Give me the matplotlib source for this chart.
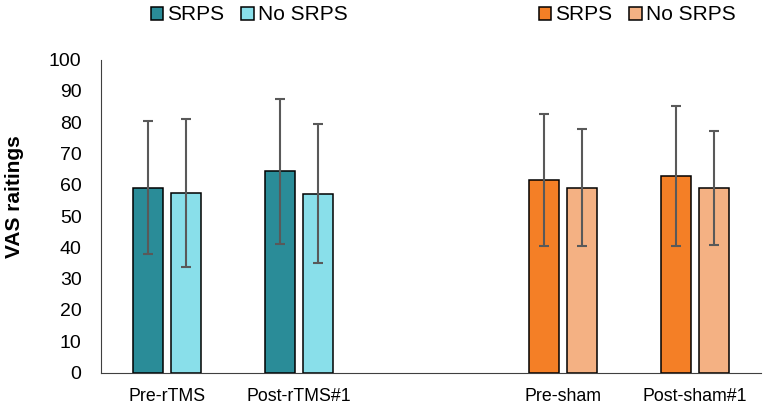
import matplotlib.pyplot as plt
import numpy as np

plt.rcParams['font.family'] = ['Liberation Sans', 'DejaVu Sans']

rtms_labels = ['Pre-rTMS', 'Post-rTMS#1']
sham_labels = ['Pre-sham', 'Post-sham#1']

rtms_srps = [59.1, 64.3]
rtms_srps_err = [21.2, 23.2]
rtms_no = [57.3, 57.1]
rtms_no_err = [23.6, 22.2]

sham_srps = [61.5, 62.8]
sham_srps_err = [21.2, 22.3]
sham_no = [59.0, 58.9]
sham_no_err = [18.7, 18.3]

W, H = 765, 407
fig = plt.figure(figsize=(W / 100, H / 100), dpi=100)
ax = fig.add_axes([101 / W, (H - 372.5) / H, 660 / W, 313 / H])

x_rtms = np.arange(len(rtms_labels))
x_sham = np.arange(len(sham_labels)) + len(rtms_labels) + 1

bw = 0.227
off = 0.142
err_kw = dict(ecolor='#595959', elinewidth=1.5, capsize=3.3, capthick=1.5)

b1 = ax.bar(x_rtms - off, rtms_srps, bw, yerr=rtms_srps_err, color='#2A8C98',
            edgecolor='black', linewidth=1.1, error_kw=err_kw, label='SRPS')
b2 = ax.bar(x_rtms + off, rtms_no, bw, yerr=rtms_no_err, color='#89DFEA',
            edgecolor='black', linewidth=1.1, error_kw=err_kw, label='No SRPS')
b3 = ax.bar(x_sham - off, sham_srps, bw, yerr=sham_srps_err, color='#F47F26',
            edgecolor='black', linewidth=1.1, error_kw=err_kw, label='SRPS')
b4 = ax.bar(x_sham + off, sham_no, bw, yerr=sham_no_err, color='#F4B183',
            edgecolor='black', linewidth=1.1, error_kw=err_kw, label='No SRPS')

ax.set_xlim(-0.5, 4.5)
ax.set_ylim(0, 100)
ax.set_yticks(np.arange(0, 101, 10))
ax.set_xticks(np.concatenate([x_rtms, x_sham]))
ax.set_xticklabels(rtms_labels + sham_labels, fontsize=12.8)
ax.tick_params(axis='x', length=0, pad=11)
ax.tick_params(axis='y', length=0, labelsize=14, pad=14)

for s in ['top', 'right']:
    ax.spines[s].set_visible(False)
ax.spines['left'].set_color('#404040')
ax.spines['bottom'].set_color('#404040')

fig.text(15 / W, 1 - 197 / H, 'VAS raitings', rotation=90, fontsize=15,
         fontweight='bold', ha='center', va='center')

leg_kw = dict(ncol=2, frameon=False, fontsize=15, handlelength=0.6,
              handleheight=0.6, handletextpad=0.2, columnspacing=0.8,
              loc='center', borderaxespad=0)
fig.legend(handles=[b1, b2], bbox_to_anchor=(249 / W, 1 - 15 / H), **leg_kw)
fig.legend(handles=[b3, b4], bbox_to_anchor=(637 / W, 1 - 15 / H), **leg_kw)

fig.savefig('out.png', dpi=100)
